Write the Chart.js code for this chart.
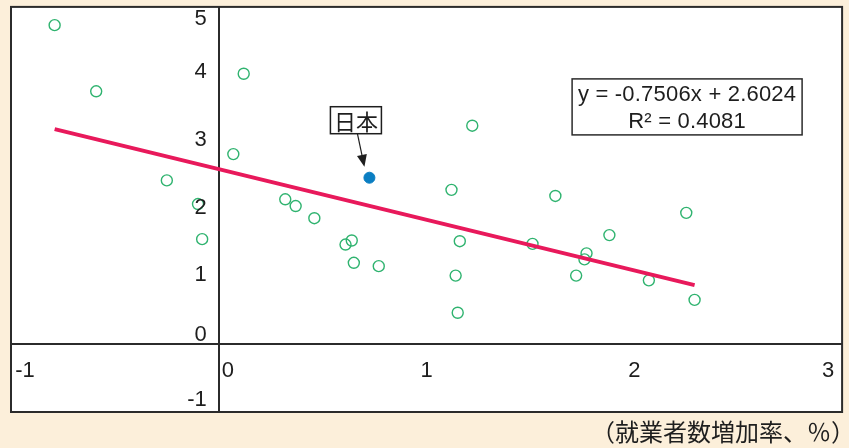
<!DOCTYPE html>
<html>
<head>
<meta charset="utf-8">
<script src="https://cdn.jsdelivr.net/npm/chart.js@4.4.0/dist/chart.umd.min.js"></script>
<style>
  html, body { margin: 0; padding: 0; background: #fcefda; }
  #wrap { width: 849px; height: 448px; }
</style>
</head>
<body>
<div id="wrap"><canvas id="scatter" width="849" height="448"></canvas></div>
<script>
// countries: employment growth (x, %) vs. the other indicator (y)
var countryX = [-0.79, -0.59, -0.25, -0.10, -0.08, 0.07, 0.12, 0.32, 0.37, 0.46,
                0.61, 0.64, 0.65, 0.77, 1.22, 1.12, 1.16, 1.14, 1.15, 1.51,
                1.62, 1.88, 1.77, 1.76, 1.72, 2.07, 2.25, 2.29];
var countryY = [4.73, 3.75, 2.43, 2.08, 1.56, 2.82, 4.01, 2.15, 2.05, 1.87,
                1.48, 1.54, 1.21, 1.16, 3.24, 2.29, 1.53, 1.02, 0.47, 1.49,
                2.20, 1.62, 1.35, 1.26, 1.02, 0.95, 1.95, 0.66];
var japanX = [0.725];
var japanY = [2.47];
var trendX = [-0.79, 2.29];
var trendY = [3.19, 0.88];
var xTicks = [-1, 0, 1, 2, 3];
var yTicks = [-1, 0, 1, 2, 3, 4, 5];
var equationLines = ['y = -0.7506x + 2.6024', 'R\u00b2 = 0.4081'];
var japanLabel = '日本';
var xAxisLabel = '（就業者数増加率、％）';

function toPoints(xs, ys) {
    return xs.map(function(v, i) { return {x: v, y: ys[i]}; });
}

var overlay = {
    id: 'overlay',
    beforeDraw: function(chart) {
        var a = chart.chartArea, ctx = chart.ctx;
        ctx.save();
        ctx.fillStyle = '#ffffff';
        ctx.fillRect(a.left, a.top, a.right - a.left, a.bottom - a.top);
        ctx.restore();
    },
    afterDraw: function(chart) {
        var ctx = chart.ctx, a = chart.chartArea;
        var sx = chart.scales.x, sy = chart.scales.y;
        var x0 = sx.getPixelForValue(0), y0 = sy.getPixelForValue(0);
        ctx.save();

        // frame
        ctx.strokeStyle = '#2b2b2b';
        ctx.lineWidth = 2;
        ctx.strokeRect(a.left, a.top, a.right - a.left, a.bottom - a.top);

        // tick labels, kept inside the frame
        ctx.fillStyle = '#1e1e1e';
        ctx.font = '22px "Liberation Sans", Arial, sans-serif';
        ctx.textBaseline = 'middle';
        ctx.textAlign = 'right';
        yTicks.forEach(function(v) {
            var py = sy.getPixelForValue(v) - 2;
            if (v === 0) py -= 8;
            py = Math.max(a.top + 12, Math.min(a.bottom - 12, py));
            ctx.fillText(String(v), x0 - 12, py);
        });
        ctx.textAlign = 'center';
        xTicks.forEach(function(v) {
            var px = sx.getPixelForValue(v);
            if (v === 0) px += 9;
            px = Math.max(a.left + 14, Math.min(a.right - 14, px));
            ctx.fillText(String(v), px, y0 + 26);
        });

        // regression equation box
        var bx = a.right - 270, by = a.top + 72, bw = 230, bh = 56;
        ctx.fillStyle = '#ffffff';
        ctx.fillRect(bx, by, bw, bh);
        ctx.lineWidth = 1.5;
        ctx.strokeRect(bx, by, bw, bh);
        ctx.fillStyle = '#1e1e1e';
        ctx.font = '22px "Liberation Sans", Arial, sans-serif';
        ctx.letterSpacing = '0.2px';
        ctx.fillText(equationLines[0], bx + bw / 2, by + 16);
        ctx.fillText(equationLines[1], bx + bw / 2, by + 43);
        ctx.letterSpacing = '0px';

        // Japan callout
        var jx = sx.getPixelForValue(japanX[0]), jy = sy.getPixelForValue(japanY[0]);
        var lx = jx - 39, ly = jy - 71, lw = 51, lh = 27;
        ctx.fillStyle = '#ffffff';
        ctx.fillRect(lx, ly, lw, lh);
        ctx.strokeStyle = '#1e1e1e';
        ctx.lineWidth = 1.5;
        ctx.strokeRect(lx, ly, lw, lh);
        ctx.fillStyle = '#1e1e1e';
        ctx.font = '22px "Noto Sans CJK JP", sans-serif';
        ctx.fillText(japanLabel, lx + lw / 2, ly + lh / 2 + 1);
        var ax1 = jx - 12, ay1 = jy - 44, ax2 = jx - 5, ay2 = jy - 11;
        var ang = Math.atan2(ay2 - ay1, ax2 - ax1);
        ctx.lineWidth = 1.2;
        ctx.beginPath();
        ctx.moveTo(ax1, ay1);
        ctx.lineTo(ax2 - 9 * Math.cos(ang), ay2 - 9 * Math.sin(ang));
        ctx.stroke();
        ctx.beginPath();
        ctx.moveTo(ax2, ay2);
        ctx.lineTo(ax2 - 12 * Math.cos(ang) + 5 * Math.sin(ang), ay2 - 12 * Math.sin(ang) - 5 * Math.cos(ang));
        ctx.lineTo(ax2 - 12 * Math.cos(ang) - 5 * Math.sin(ang), ay2 - 12 * Math.sin(ang) + 5 * Math.cos(ang));
        ctx.closePath();
        ctx.fill();

        // axis title under the frame
        ctx.font = '24px "Noto Sans CJK JP", sans-serif';
        ctx.textAlign = 'right';
        ctx.fillText(xAxisLabel, chart.width + 6, a.bottom + 20);
        ctx.restore();
    }
};

var chart = new Chart(document.getElementById('scatter'), {
    type: 'scatter',
    data: {
        datasets: [
            {
                label: 'trend',
                type: 'line',
                data: toPoints(trendX, trendY),
                borderColor: '#e8195b',
                borderWidth: 4,
                pointRadius: 0,
                fill: false,
                order: 0
            },
            {
                label: 'Japan',
                data: toPoints(japanX, japanY),
                pointRadius: 5.5,
                pointBackgroundColor: '#0a7ec2',
                pointBorderColor: '#0a7ec2',
                pointBorderWidth: 1,
                order: 1
            },
            {
                label: 'countries',
                data: toPoints(countryX, countryY),
                pointRadius: 5.5,
                pointBackgroundColor: 'rgba(255,255,255,0)',
                pointBorderColor: '#2fb36f',
                pointBorderWidth: 1.4,
                order: 2
            }
        ]
    },
    options: {
        responsive: false,
        animation: false,
        layout: { padding: { left: 11, right: 6, top: 5, bottom: 36 } },
        plugins: { legend: { display: false }, tooltip: { enabled: false } },
        scales: {
            x: {
                type: 'linear', min: -1, max: 3,
                position: { y: 0 },
                afterBuildTicks: function(s) { s.ticks = xTicks.map(function(v) { return {value: v}; }); },
                grid: { display: false },
                border: { display: true, color: '#2b2b2b', width: 2 },
                ticks: { display: false }
            },
            y: {
                type: 'linear', min: -1, max: 5,
                position: { x: 0 },
                afterBuildTicks: function(s) { s.ticks = yTicks.map(function(v) { return {value: v}; }); },
                grid: { display: false },
                border: { display: true, color: '#2b2b2b', width: 2 },
                ticks: { display: false }
            }
        }
    },
    plugins: [overlay]
});
</script>
</body>
</html>
